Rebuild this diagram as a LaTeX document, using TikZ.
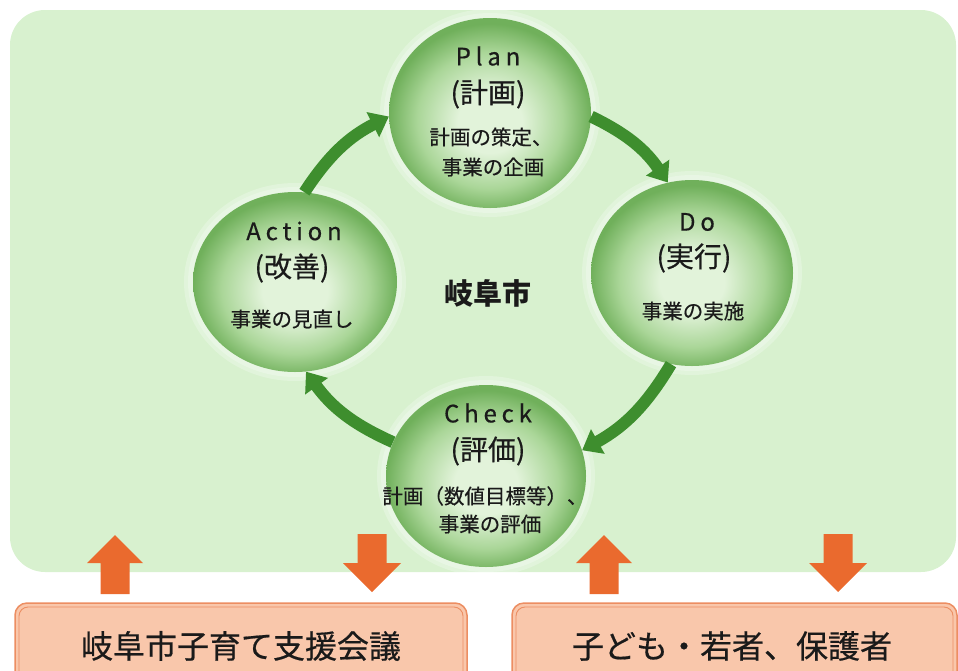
\documentclass[tikz,border=0pt]{standalone}
\usepackage{fontspec}
\setmainfont{Noto Sans CJK JP}
\usetikzlibrary{shapes.geometric,arrows.meta}
\definecolor{bggreen}{HTML}{D8F1CF}
\definecolor{ballc}{HTML}{E2F3DA}
\definecolor{ballm}{HTML}{AAD698}
\definecolor{balle}{HTML}{70B05B}
\definecolor{arrgreen}{HTML}{3E8E2E}
\definecolor{orangearr}{HTML}{EA6A2E}
\definecolor{boxfill}{HTML}{F9C7AB}
\definecolor{boxline}{HTML}{EC8E62}
\definecolor{txt}{HTML}{1A1A1A}
\pgfdeclareradialshading{ballshade}{\pgfpoint{0bp}{-3bp}}{color(0bp)=(ballc); color(8bp)=(ballc); color(18bp)=(ballm); color(25bp)=(balle); color(50bp)=(balle)}
\begin{document}
\begin{tikzpicture}[x=1pt,y=-1pt,
  ball/.style={ellipse, inner sep=0pt, shading=ballshade, draw=none},
  halo/.style={fill=white, opacity=0.25},
  ttl/.style={font=\fontsize{24}{24}\selectfont\addfontfeature{LetterSpace=20,FakeBold=0.5}, text=txt, inner sep=0pt},
  par/.style={font=\fontsize{28}{28}\selectfont\addfontfeature{FakeBold=0.5}, text=txt, inner sep=0pt},
  sub/.style={font=\fontsize{20.5}{20.5}\selectfont\addfontfeature{FakeBold=0.4}, text=txt, inner sep=0pt},
  big/.style={font=\fontsize{32}{32}\selectfont\addfontfeature{FakeBold=0.5}, text=txt, inner sep=0pt},
  garrow/.style={draw=arrgreen, line width=12pt, -{Triangle[width=27pt,length=18pt]}},
  orarrow/.style={fill=orangearr},
  outerbox/.style={fill=boxfill, draw=boxline, line width=1.5pt, rounded corners=12pt},
  innerbox/.style={draw=boxline, line width=0.9pt, rounded corners=9pt}
]
\useasboundingbox (0,0) rectangle (958,670);
\clip (0,0) rectangle (958,670);
% background panel
\fill[bggreen, rounded corners=35pt] (10,10) rectangle (956,572);
% halos
\foreach \cx/\cy/\rx/\ry in {490/113/101/95, 692/273/101/93, 295/282/102/90, 486/476/100/91}{
  \fill[halo] (\cx,\cy) ellipse [x radius=\rx+9, y radius=\ry+9];
  \fill[halo] (\cx,\cy) ellipse [x radius=\rx+5, y radius=\ry+5];
}
% balls
\node[ball, minimum width=202pt, minimum height=190pt] (plan) at (490,113) {};
\node[ball, minimum width=202pt, minimum height=186pt] (do) at (692,273) {};
\node[ball, minimum width=204pt, minimum height=180pt] (action) at (295,282) {};
\node[ball, minimum width=200pt, minimum height=182pt] (check) at (486,476) {};
% texts
\node[ttl] (plant) at (488,56) {Plan};
\node[par] (planp) at (488,94) {(計画)};
\node[sub] (plans1) at (491,137) {計画の策定、};
\node[sub] (plans2) at (493,167) {事業の企画};
\node[ttl] (dot) at (697,222) {Do};
\node[par] (dop) at (694,258) {(実行)};
\node[sub] (dos) at (693,311) {事業の実施};
\node[ttl] (actiont) at (294,231) {Action};
\node[par] (actionp) at (292,268) {(改善)};
\node[sub] (actions) at (292,319) {事業の見直し};
\node[ttl] (checkt) at (488,413) {Check};
\node[par] (checkp) at (488,451) {(評価)};
\node[sub] (checks1) at (485,496) {計画（数値目標等）、};
\node[sub] (checks2) at (490,524) {事業の評価};
\node[font=\fontsize{29}{29}\selectfont\bfseries, text=txt, inner sep=0pt] (city) at (488,293) {岐阜市};
% cycle arrows
\draw[garrow] (action.84) to[bend left=15] (plan.182);
\draw[garrow] (plan.358) to[bend left=15] (do.105);
\draw[garrow] (do.257) to[bend left=15] (check.15);
\draw[garrow] (check.160) to[bend left=15] (action.277);
% orange block arrows
\foreach \cx in {115,604}{
  \fill[orarrow] (\cx,535) -- (\cx+28,563) -- (\cx+14.5,563) -- (\cx+14.5,594) -- (\cx-14.5,594) -- (\cx-14.5,563) -- (\cx-28,563) -- cycle;
}
\foreach \cx in {372,838}{
  \fill[orarrow] (\cx,592) -- (\cx+29,563) -- (\cx+14.5,563) -- (\cx+14.5,534) -- (\cx-14.5,534) -- (\cx-14.5,563) -- (\cx-29,563) -- cycle;
}
% bottom boxes
\draw[outerbox] (15,603) rectangle (467,700);
\draw[innerbox] (19,607) rectangle (463,700);
\node[big] (council) at (241,646) {岐阜市子育て支援会議};
\draw[outerbox] (512,603) rectangle (957,700);
\draw[innerbox] (516,607) rectangle (953,700);
\node[big] (people) at (732,646) {子ども・若者、保護者};
\end{tikzpicture}
\end{document}
